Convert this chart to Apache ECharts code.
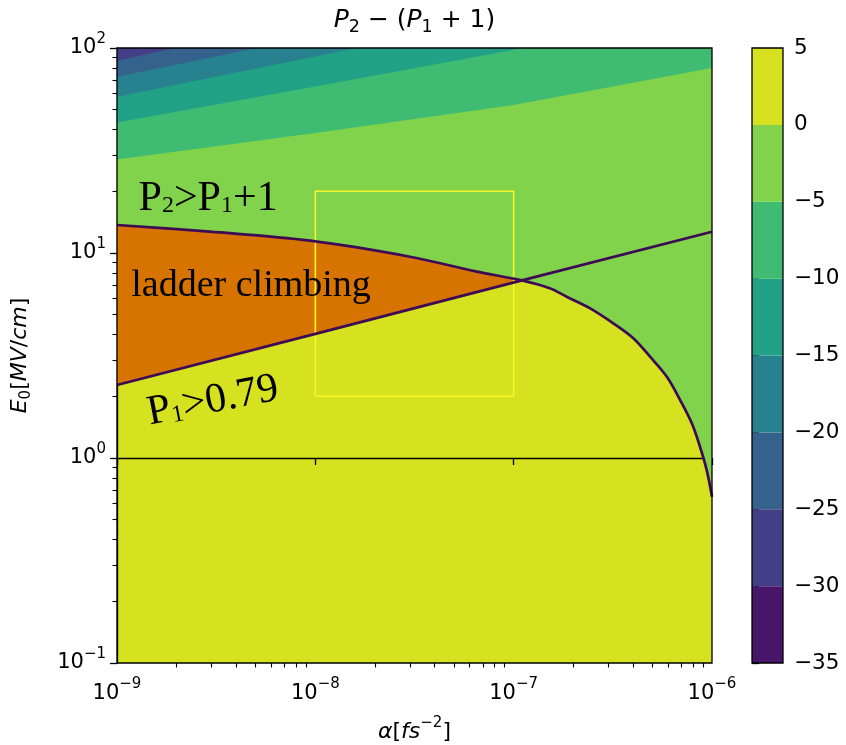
<!DOCTYPE html>
<html>
<head>
<meta charset="utf-8">
<script src="https://cdn.jsdelivr.net/npm/echarts@6/dist/echarts.min.js"></script>
<style>
  html, body { margin: 0; padding: 0; background: #fff; }
  #chart { width: 846px; height: 745px; }
</style>
</head>
<body>
<div id="chart"></div>
<script>
// axes: alpha [fs^-2] on x, E0 [MV/cm] on y, both log
const xTicks = [1e-9, 1e-8, 1e-7, 1e-6]
const yTicks = [0.1, 1, 10, 100]
const levels = [-35, -30, -25, -20, -15, -10, -5, 0, 5]
const levelColors = ['#471669', '#433e85', '#34628d', '#27818e', '#21a286', '#40bc72', '#82d34c', '#d6e21f']

// contour lines of P2-(P1+1)
// level 0 (the P2 = P1+1 boundary)
const c0Alpha = [1e-9, 2.94e-9, 9.4e-9, 3.0e-8, 6.52e-8, 1.1e-7, 1.52e-7, 1.85e-7, 2.43e-7, 3.18e-7,
  4.01e-7, 4.87e-7, 5.92e-7, 6.9e-7, 7.91e-7, 8.7e-7, 9.4e-7, 1e-6]
const c0E = [13.7, 12.7, 11.48, 9.59, 8.11, 7.35, 6.73, 6.12, 5.37, 4.54,
  3.84, 3.12, 2.49, 1.92, 1.476, 1.135, 0.874, 0.647]
// level -5
const c5Alpha = [1e-9, 1e-8, 1e-7, 1e-6]
const c5E = [28.6, 38.5, 52.7, 79.8]
// level -10
const c10Alpha = [1e-9, 1e-8, 6e-8, 3.2e-7]
const c10E = [43.3, 64.9, 89.3, 121]
// level -15
const c15Alpha = [1e-9, 4.0e-9, 1.62e-8, 3.4e-8]
const c15E = [57.8, 76.0, 100, 115]
// level -20
const c20Alpha = [1e-9, 5.1e-9, 1.06e-8]
const c20E = [72.4, 100, 116]
// level -25
const c25Alpha = [1e-9, 1.94e-9, 3.3e-9]
const c25E = [86.7, 100, 112]

// P1 = 0.79 line
const p1Alpha = [1e-9, 1e-8, 1.1e-7, 1e-6]
const p1E = [2.27, 4.03, 7.35, 12.7]
const crossAlpha = 1.1e-7

// yellow box
const boxAlpha = [1e-8, 1e-7]
const boxE = [2, 20]

// annotations
const noteText = [
  '{m|P}{s|2}{m|>P}{s|1}{m|+1}',
  '{l|ladder climbing}',
  '{m|P}{s|1}{m|>0.79}'
]
const noteAlpha = [2.88e-9, 4.74e-9, 3.05e-9]
const noteE = [18.1, 6.82, 1.875]
const noteRot = [0, 0, 0.19]

const minorX = []
xTicks.slice(0, -1).forEach(t => { for (let k = 2; k < 10; k++) minorX.push(t * k) })
const minorY = []
yTicks.slice(0, -1).forEach(t => { for (let k = 2; k < 10; k++) minorY.push(t * k) })

const bands = [
  { a: c0Alpha, e: c0E, color: levelColors[6] },
  { a: c5Alpha, e: c5E, color: levelColors[5] },
  { a: c10Alpha, e: c10E, color: levelColors[4] },
  { a: c15Alpha, e: c15E, color: levelColors[3] },
  { a: c20Alpha, e: c20E, color: levelColors[2] },
  { a: c25Alpha, e: c25E, color: levelColors[1] }
]

const FONT = 'DejaVu Sans'
const SERIF = 'Liberation Serif'

function expLabel(v) {
  const n = Math.round(Math.log10(v))
  return '{b|10}{s|' + (n < 0 ? '\u2212' + (-n) : n) + '}'
}
const supRich = {
  b: { fontFamily: FONT, fontSize: 21, lineHeight: 21, color: '#000', verticalAlign: 'bottom' },
  s: { fontFamily: FONT, fontSize: 15, lineHeight: 15, color: '#000', padding: [0, 0, 12, 0], verticalAlign: 'bottom' }
}

// hidden value axes in decade (exponent) units that only carry the minor ticks
function minorAxis(vals, lo, hi, pos) {
  return {
    type: 'value',
    gridIndex: 0,
    position: pos,
    min: Math.log10(lo),
    max: Math.log10(hi),
    axisLine: { show: false },
    axisLabel: { show: false },
    splitLine: { show: false },
    axisTick: {
      show: true,
      inside: false,
      length: 4.5,
      customValues: vals.map(v => Math.log10(v)),
      lineStyle: { color: '#000', width: 1.1 }
    }
  }
}

const chart = echarts.init(document.getElementById('chart'))

chart.setOption({
  animation: false,
  backgroundColor: '#fff',
  graphic: [{
    id: 'title',
    type: 'text',
    x: 414.5,
    y: 22,
    style: {
      text: '{i|P}{s|2}{n| \u2212 (}{i|P}{s|1}{n| + 1)}',
      align: 'center',
      verticalAlign: 'middle',
      rich: {
        i: { fontFamily: FONT, fontSize: 25, fontStyle: 'italic', lineHeight: 28, verticalAlign: 'top', fill: '#000' },
        n: { fontFamily: FONT, fontSize: 25, lineHeight: 28, verticalAlign: 'top', fill: '#000' },
        s: { fontFamily: FONT, fontSize: 17.5, lineHeight: 17, padding: [10, 0, 0, 0], verticalAlign: 'top', fill: '#000' }
      }
    }
  }],
  grid: [
    { left: 117, right: 134, top: 48, bottom: 82, show: true, backgroundColor: levelColors[7], borderWidth: 0, outerBoundsMode: 'none' },
    { left: 752, right: 63, top: 48, bottom: 82, show: false, outerBoundsMode: 'none' }
  ],
  xAxis: [{
    type: 'log',
    logBase: 10,
    gridIndex: 0,
    position: 'bottom',
    min: xTicks[0],
    max: xTicks[xTicks.length - 1],
    splitLine: { show: false },
    axisLine: { show: true, lineStyle: { color: '#000', width: 1.3 } },
    axisTick: { show: true, inside: false, length: 7, lineStyle: { color: '#000', width: 1.3 } },
    axisLabel: { margin: 20, formatter: expLabel, rich: supRich },
    name: '{i|\u03b1}{n|[}{i|fs}{s|\u22122}{n|]}',
    nameLocation: 'middle',
    nameGap: 58,
    nameTextStyle: {
      rich: {
        i: { fontFamily: FONT, fontSize: 22, fontStyle: 'italic', lineHeight: 22, verticalAlign: 'bottom', color: '#000' },
        n: { fontFamily: FONT, fontSize: 22, lineHeight: 22, verticalAlign: 'bottom', color: '#000' },
        s: { fontFamily: FONT, fontSize: 15, lineHeight: 15, padding: [0, 0, 12, 0], verticalAlign: 'bottom', color: '#000' }
      }
    }
  }, {
    type: 'value',
    gridIndex: 1,
    min: 0,
    max: 1,
    show: false
  }, minorAxis(minorX, xTicks[0], xTicks[xTicks.length - 1], 'bottom')],
  yAxis: [{
    type: 'log',
    logBase: 10,
    gridIndex: 0,
    position: 'left',
    min: yTicks[0],
    max: yTicks[yTicks.length - 1],
    splitLine: { show: false },
    axisLine: { show: true, lineStyle: { color: '#000', width: 1.3 } },
    axisTick: { show: true, inside: false, length: 7, lineStyle: { color: '#000', width: 1.3 } },
    axisLabel: { margin: 11, formatter: expLabel, rich: supRich },
    name: '{i|E}{s|0}{n|[}{i|MV}{n|/}{i|cm}{n|]}',
    nameLocation: 'middle',
    nameRotate: 90,
    nameGap: 82,
    nameTextStyle: {
      rich: {
        i: { fontFamily: FONT, fontSize: 22, fontStyle: 'italic', lineHeight: 26, verticalAlign: 'top', color: '#000' },
        n: { fontFamily: FONT, fontSize: 22, lineHeight: 26, verticalAlign: 'top', color: '#000' },
        s: { fontFamily: FONT, fontSize: 15, lineHeight: 15, padding: [10, 0, 0, 0], verticalAlign: 'top', color: '#000' }
      }
    }
  }, {
    type: 'value',
    gridIndex: 1,
    position: 'right',
    min: levels[0],
    max: levels[levels.length - 1],
    interval: 5,
    splitLine: { show: false },
    axisLine: { show: false },
    axisTick: { show: true, inside: false, length: 7, lineStyle: { color: '#000', width: 1.3 } },
    axisLabel: {
      margin: 11,
      color: '#000',
      fontFamily: FONT,
      fontSize: 21.5,
      formatter: v => (v < 0 ? '\u2212' + (-v) : '' + v)
    }
  }, minorAxis(minorY, yTicks[0], yTicks[yTicks.length - 1], 'left')],
  series: [
    {
      // filled contour bands
      type: 'custom',
      xAxisIndex: 0,
      yAxisIndex: 0,
      clip: true,
      silent: true,
      z: 1,
      encode: { x: 0, y: 1 },
      data: bands.map((b, i) => [b.a[0], b.e[0], i]).concat([[c0Alpha[0], c0E[0], -1]]),
      renderItem(params, api) {
        const idx = api.value(2)
        if (idx < 0) {
          // ladder climbing region between the two curves
          const pts = []
          c0Alpha.forEach((a, i) => { if (a <= crossAlpha) pts.push(api.coord([a, c0E[i]])) })
          for (let i = p1Alpha.length - 1; i >= 0; i--) {
            if (p1Alpha[i] <= crossAlpha) pts.push(api.coord([p1Alpha[i], p1E[i]]))
          }
          return { type: 'polygon', shape: { points: pts }, style: { fill: '#d77400' } }
        }
        const b = bands[idx]
        const pts = b.a.map((a, i) => api.coord([a, b.e[i]]))
        pts.push(api.coord([b.a[b.a.length - 1], 1e4]))
        pts.push(api.coord([b.a[0], 1e4]))
        return { type: 'polygon', shape: { points: pts }, style: { fill: b.color } }
      }
    },
    {
      type: 'line',
      xAxisIndex: 0,
      yAxisIndex: 0,
      data: [
        [boxAlpha[0], boxE[0]], [boxAlpha[1], boxE[0]], [boxAlpha[1], boxE[1]],
        [boxAlpha[0], boxE[1]], [boxAlpha[0], boxE[0]]
      ],
      symbol: 'none',
      silent: true,
      z: 3,
      lineStyle: { color: '#f8f52a', width: 1.6 }
    },
    {
      type: 'line',
      xAxisIndex: 0,
      yAxisIndex: 0,
      data: c0Alpha.map((a, i) => [a, c0E[i]]),
      symbol: 'none',
      smooth: 0.35,
      silent: true,
      z: 4,
      lineStyle: { color: '#3f0a55', width: 2.7 }
    },
    {
      type: 'line',
      xAxisIndex: 0,
      yAxisIndex: 0,
      data: p1Alpha.map((a, i) => [a, p1E[i]]),
      symbol: 'none',
      silent: true,
      z: 4,
      lineStyle: { color: '#3f0a55', width: 2.7 }
    },
    {
      // annotations
      type: 'custom',
      xAxisIndex: 0,
      yAxisIndex: 0,
      clip: false,
      silent: true,
      z: 6,
      encode: { x: 0, y: 1 },
      data: noteAlpha.map((a, i) => [a, noteE[i], i]),
      renderItem(params, api) {
        const i = api.value(2)
        const p = api.coord([noteAlpha[i], noteE[i]])
        return {
          type: 'text',
          x: p[0],
          y: p[1],
          rotation: noteRot[i],
          style: {
            text: noteText[i],
            align: 'center',
            verticalAlign: 'middle',
            textAlign: 'center',
            textVerticalAlign: 'middle',
            rich: {
              l: { fontFamily: SERIF, fontSize: 38, lineHeight: 40, verticalAlign: 'top', fill: '#000' },
              m: { fontFamily: SERIF, fontSize: 42, lineHeight: 44, verticalAlign: 'top', fill: '#000' },
              s: { fontFamily: SERIF, fontSize: 24, lineHeight: 24, padding: [16, 0, 0, 0], verticalAlign: 'top', fill: '#000' }
            }
          }
        }
      }
    },
    {
      // plot frame
      type: 'custom',
      xAxisIndex: 0,
      yAxisIndex: 0,
      clip: false,
      silent: true,
      z: 7,
      encode: { x: 0, y: 1 },
      data: [[xTicks[0], yTicks[0]]],
      renderItem(params, api) {
        const a = api.coord([xTicks[0], yTicks[yTicks.length - 1]])
        const b = api.coord([xTicks[xTicks.length - 1], yTicks[0]])
        return {
          type: 'rect',
          shape: { x: a[0], y: a[1], width: b[0] - a[0], height: b[1] - a[1] },
          style: { fill: 'none', stroke: '#000', lineWidth: 1.3 }
        }
      }
    },
    {
      // colorbar
      type: 'custom',
      xAxisIndex: 1,
      yAxisIndex: 1,
      silent: true,
      z: 2,
      encode: { x: 0, y: 1 },
      data: levels.slice(0, -1).map((lo, i) => [0, lo, i]).concat([[0, levels[0], -1]]),
      renderItem(params, api) {
        const i = api.value(2)
        if (i < 0) {
          const a = api.coord([0, levels[levels.length - 1]])
          const b = api.coord([1, levels[0]])
          return {
            type: 'rect',
            z2: 10,
            shape: { x: a[0], y: a[1], width: b[0] - a[0], height: b[1] - a[1] },
            style: { fill: 'none', stroke: '#000', lineWidth: 1.3 }
          }
        }
        const a = api.coord([0, levels[i + 1]])
        const b = api.coord([1, levels[i]])
        return {
          type: 'rect',
          shape: { x: a[0], y: a[1], width: b[0] - a[0], height: b[1] - a[1] },
          style: { fill: levelColors[i] }
        }
      }
    }
  ]
})
</script>
</body>
</html>
